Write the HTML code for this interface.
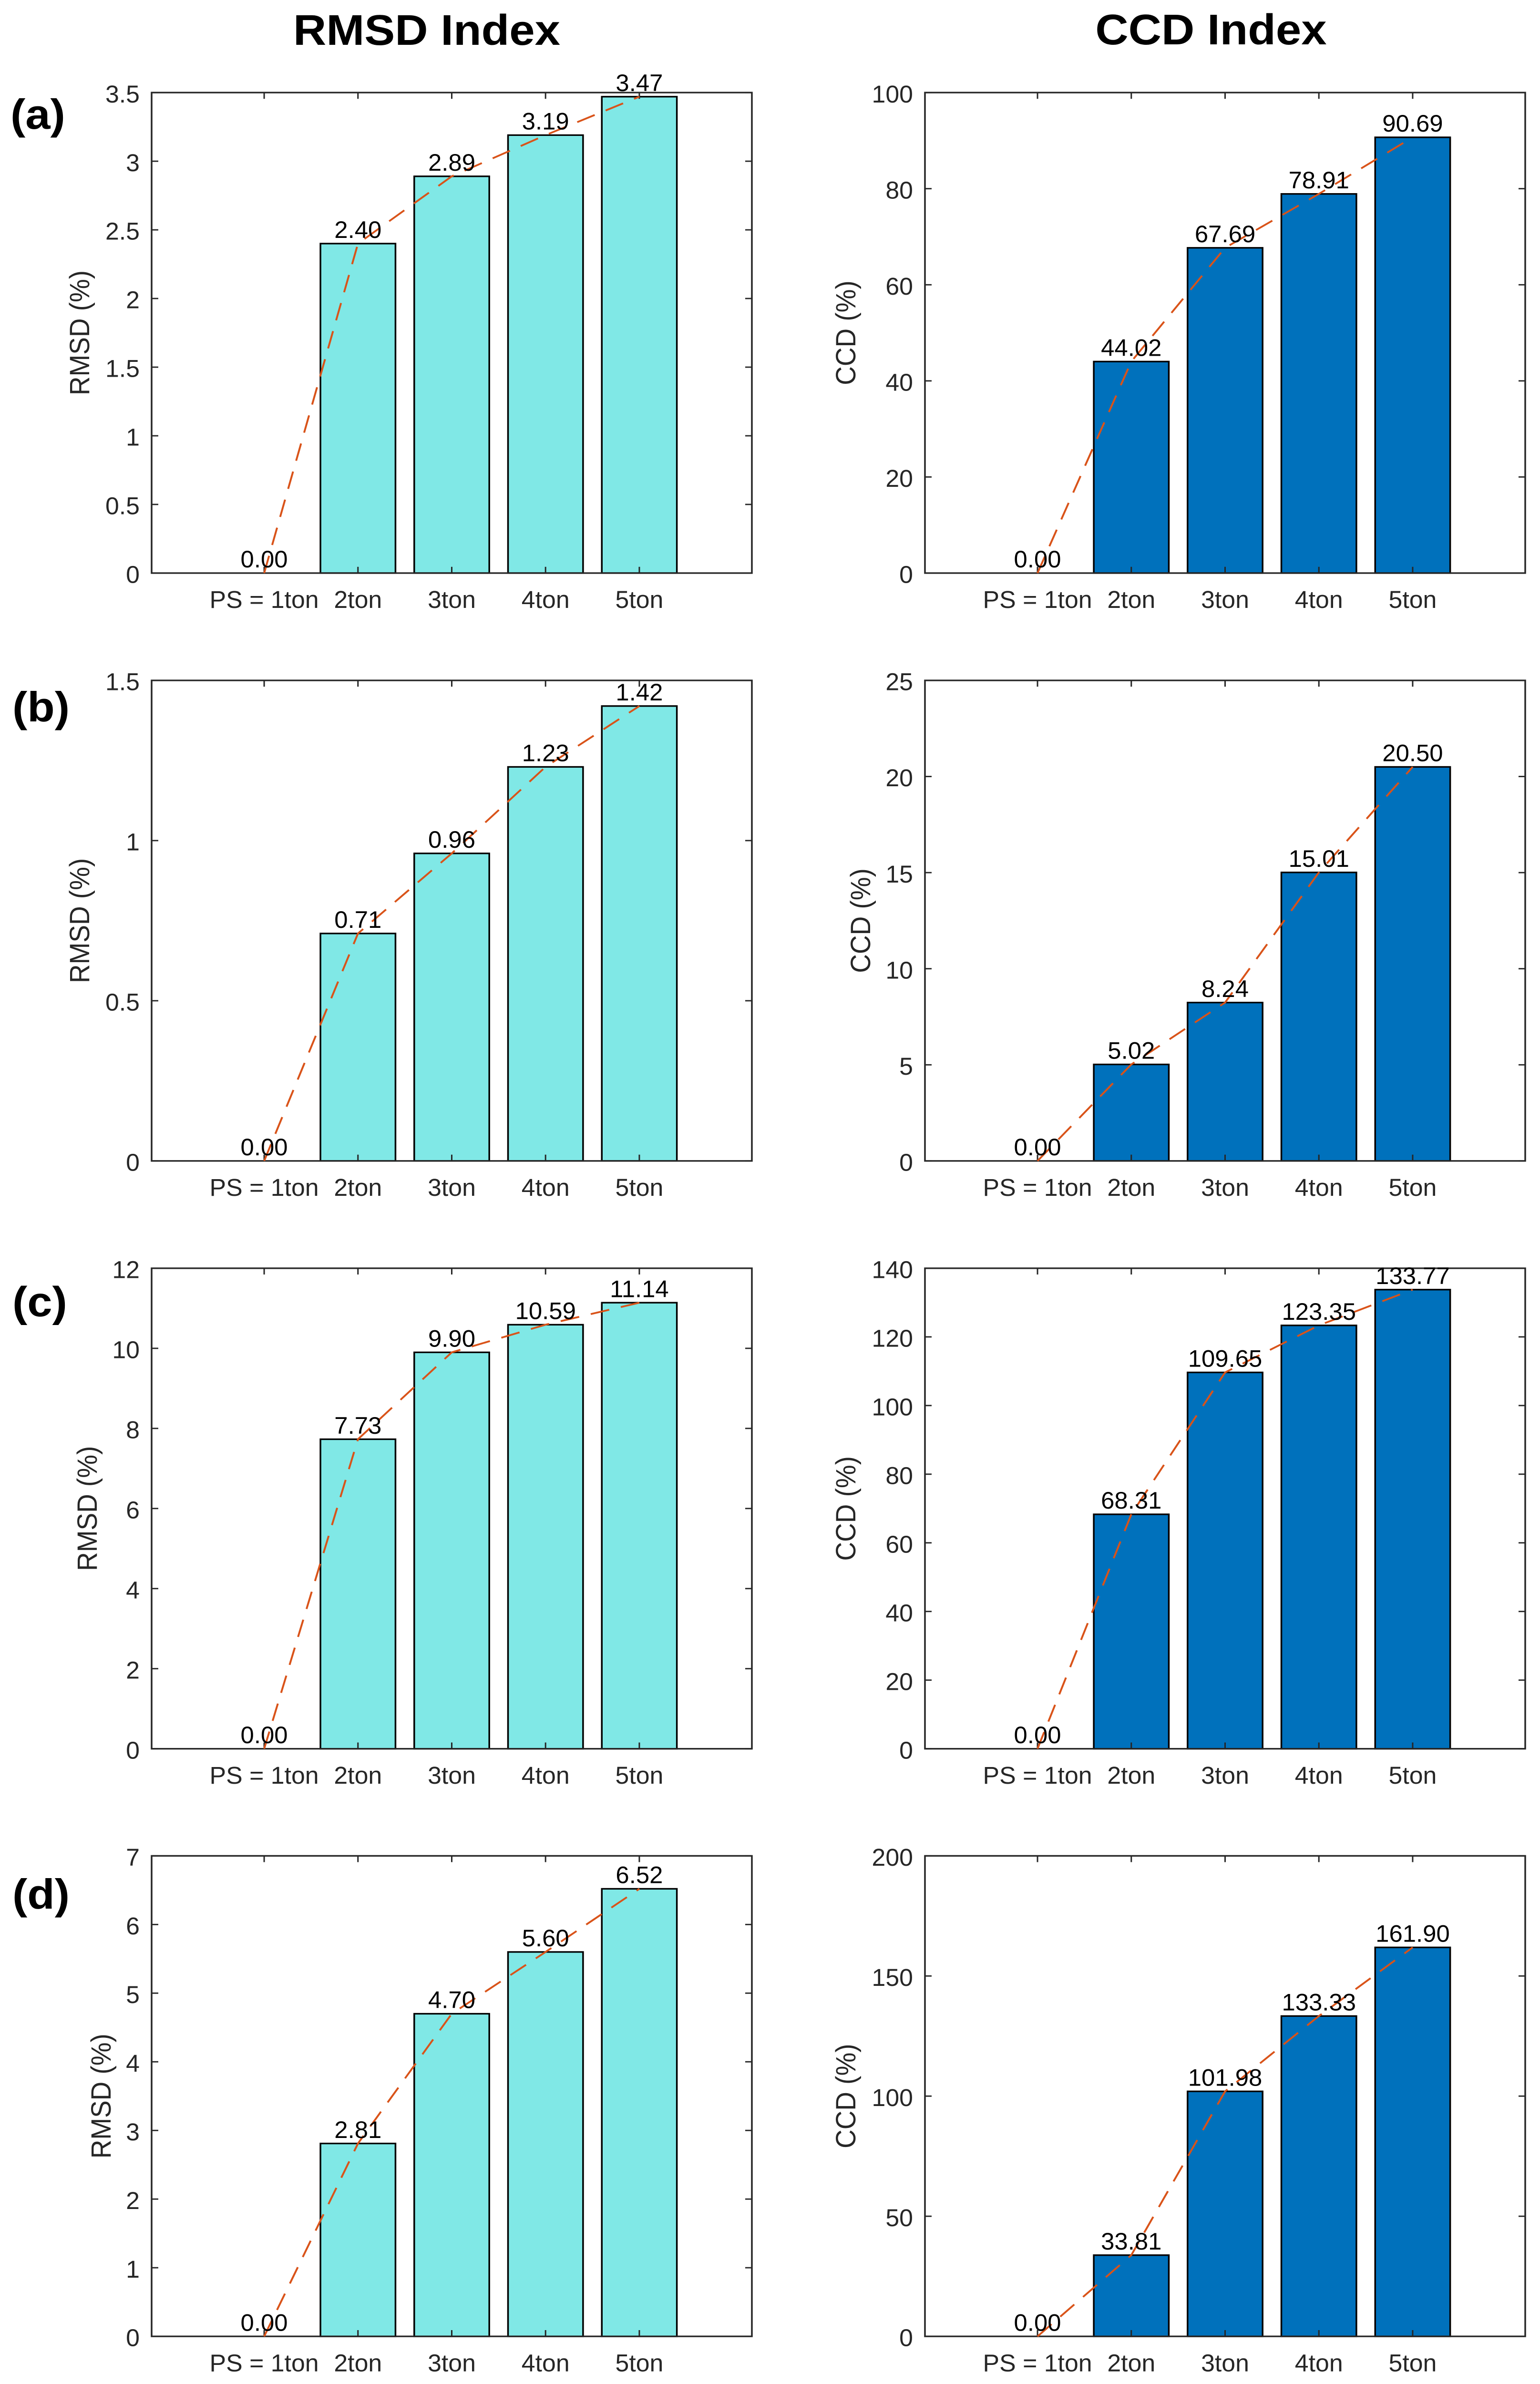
<!DOCTYPE html>
<html lang="en">
<head>
<meta charset="utf-8">
<title>RMSD Index and CCD Index</title>
<style>
html,body{margin:0;padding:0;background:#fff;width:100%;height:100%;overflow:hidden}
svg{display:block;width:100vw;height:100vh}
text{font-family:"Liberation Sans",Arial,sans-serif}
</style>
</head>
<body>
<svg id="figure" xmlns="http://www.w3.org/2000/svg" viewBox="0 0 3230 5331" preserveAspectRatio="none">
<rect x="0" y="0" width="3230" height="5331" fill="#fff"/>
<text x="895" y="100" font-size="96" font-weight="700" text-anchor="middle" fill="#000">RMSD Index</text>
<text x="2540" y="99" font-size="96" font-weight="700" text-anchor="middle" fill="#000">CCD Index</text>
<text x="22" y="288" font-size="94" font-weight="700" fill="#000">(a)</text>
<text x="26" y="1613" font-size="94" font-weight="700" fill="#000">(b)</text>
<text x="26" y="2943" font-size="94" font-weight="700" fill="#000">(c)</text>
<text x="26" y="4268" font-size="94" font-weight="700" fill="#000">(d)</text>
</svg>
<script>
// ---- chart data ----
var categories = ["PS = 1ton", "2ton", "3ton", "4ton", "5ton"];
var rmsdA = [0.00, 2.40, 2.89, 3.19, 3.47];
var rmsdB = [0.00, 0.71, 0.96, 1.23, 1.42];
var rmsdC = [0.00, 7.73, 9.90, 10.59, 11.14];
var rmsdD = [0.00, 2.81, 4.70, 5.60, 6.52];
var ccdA = [0.00, 44.02, 67.69, 78.91, 90.69];
var ccdB = [0.00, 5.02, 8.24, 15.01, 20.50];
var ccdC = [0.00, 68.31, 109.65, 123.35, 133.77];
var ccdD = [0.00, 33.81, 101.98, 133.33, 161.90];
var rmsdTicksA = [0, 0.5, 1, 1.5, 2, 2.5, 3, 3.5];
var rmsdTicksB = [0, 0.5, 1, 1.5];
var rmsdTicksC = [0, 2, 4, 6, 8, 10, 12];
var rmsdTicksD = [0, 1, 2, 3, 4, 5, 6, 7];
var ccdTicksA = [0, 20, 40, 60, 80, 100];
var ccdTicksB = [0, 5, 10, 15, 20, 25];
var ccdTicksC = [0, 20, 40, 60, 80, 100, 120, 140];
var ccdTicksD = [0, 50, 100, 150, 200];

// ---- layout ----
var SVGNS = "http://www.w3.org/2000/svg";
var svg = document.getElementById("figure");
var axisLeft = [318, 1940];
var axisTop = [207, 1521.5, 2836, 4150];
var axisW = 1259, axisH = 1074.5;
var xMin = -0.2, xMax = 6.2, barWidth = 0.8;
var tickLen = 14, textScale = 0.96;
var titleX = [[187, 187, 203, 232], [1794, 1825, 1794, 1794]];
var AXC = "#262626";

function mk(tag, attrs, parent) {
  var e = document.createElementNS(SVGNS, tag);
  for (var k in attrs) e.setAttribute(k, attrs[k]);
  parent.appendChild(e);
  return e;
}
function label(parent, str, x, y, size, anchor, fill) {
  var t = mk("text", {transform: "translate(" + x + "," + y + ") scale(" + textScale + ",1)", "font-size": size, "text-anchor": anchor, fill: fill}, parent);
  t.textContent = str;
  return t;
}

function drawPanel(col, row, metric, letter, values, ticks, color) {
  var L = axisLeft[col], T = axisTop[row], B = T + axisH, R = L + axisW;
  var yMax = ticks[ticks.length - 1];
  function sx(v) { return L + (v - xMin) / (xMax - xMin) * axisW; }
  function sy(v) { return B - v / yMax * axisH; }
  var key = metric.toLowerCase() + "-" + letter;

  var g = mk("g", {}, svg);
  
  

  // bars
  values.forEach(function (v, i) {
    var x = sx(i + 1 - barWidth / 2), w = sx(i + 1 + barWidth / 2) - x;
    var r = mk("rect", {x: x, y: sy(v), width: w, height: B - sy(v), fill: color, stroke: "#000", "stroke-width": 3.5}, g);
    
    
  });

  // axes box
  var box = mk("rect", {x: L, y: T, width: axisW, height: axisH, fill: "none", stroke: AXC, "stroke-width": 3.5}, g);
  
  

  // x ticks + labels
  categories.forEach(function (c, i) {
    var x = sx(i + 1);
    var t1 = mk("line", {x1: x, x2: x, y1: B, y2: B - tickLen, stroke: AXC, "stroke-width": 3}, g);
    
    
    var t2 = mk("line", {x1: x, x2: x, y1: T, y2: T + tickLen, stroke: AXC, "stroke-width": 3}, g);
    
    
    var tl = label(g, c, x, B + 78, 54, "middle", AXC);
    
    
  });

  // y ticks + labels
  ticks.forEach(function (v) {
    var y = sy(v);
    var t1 = mk("line", {x1: L, x2: L + tickLen, y1: y, y2: y, stroke: AXC, "stroke-width": 3}, g);
    
    
    var t2 = mk("line", {x1: R, x2: R - tickLen, y1: y, y2: y, stroke: AXC, "stroke-width": 3}, g);
    
    
    var tl = label(g, String(v), L - 25, y + 22, 54, "end", AXC);
    
    
  });

  // y axis title
  var yt = mk("text", {transform: "translate(" + titleX[col][row] + "," + (T + axisH / 2) + ") rotate(-90)", "font-size": 58.5, "text-anchor": "middle", fill: AXC}, g);
  yt.textContent = metric + " (%)";
  
  

  // dashed trend line
  var pts = values.map(function (v, i) { return sx(i + 1) + "," + sy(v); }).join(" ");
  var line = mk("polyline", {points: pts, fill: "none", stroke: "#D95319", "stroke-width": 4, "stroke-dasharray": "40 25"}, g);
  
  

  // printed values
  values.forEach(function (v, i) {
    var t = label(g, v.toFixed(2), sx(i + 1), sy(v) - 12.5, 53, "middle", "#000");
    
    
  });
}

var CYAN = "#80E8E6", BLUE = "#0071BC";
drawPanel(0, 0, "RMSD", "a", rmsdA, rmsdTicksA, CYAN);
drawPanel(0, 1, "RMSD", "b", rmsdB, rmsdTicksB, CYAN);
drawPanel(0, 2, "RMSD", "c", rmsdC, rmsdTicksC, CYAN);
drawPanel(0, 3, "RMSD", "d", rmsdD, rmsdTicksD, CYAN);
drawPanel(1, 0, "CCD", "a", ccdA, ccdTicksA, BLUE);
drawPanel(1, 1, "CCD", "b", ccdB, ccdTicksB, BLUE);
drawPanel(1, 2, "CCD", "c", ccdC, ccdTicksC, BLUE);
drawPanel(1, 3, "CCD", "d", ccdD, ccdTicksD, BLUE);
</script>
</body>
</html>
